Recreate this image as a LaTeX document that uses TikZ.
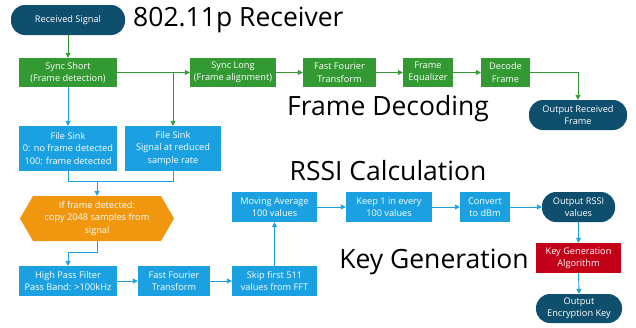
\documentclass[tikz,border=0pt]{standalone}
\usepackage{fontspec}
\setmainfont{Open Sans}
\usetikzlibrary{arrows.meta}
\definecolor{cgreen}{RGB}{51,153,51}
\definecolor{cblue}{RGB}{27,161,226}
\definecolor{cdark}{RGB}{14,79,110}
\definecolor{corange}{RGB}{240,150,15}
\definecolor{cred}{RGB}{196,0,24}
\tikzset{
  base/.style={text=white, align=center, inner sep=1pt, font=\fontsize{9.2}{12.4}\selectfont},
  gbox/.style={base, fill=cgreen},
  bbox/.style={base, fill=cblue},
  rbox/.style={base, fill=cred},
  pill/.style={base, fill=cdark, rounded corners=14pt},
  title/.style={font=\fontsize{26.5}{30}\selectfont, inner sep=0pt},
  garr/.style={draw=cgreen, line width=0.9pt, -{Triangle[width=5pt,length=5pt]}},
  barr/.style={draw=cblue, line width=0.9pt, -{Triangle[width=5pt,length=5pt]}},
  bline/.style={draw=cblue, line width=0.9pt},
}
\begin{document}
\begin{tikzpicture}[x=1pt,y=-1pt]
\useasboundingbox[fill=white] (0,0) rectangle (636,327);
% nodes
\node[pill, minimum width=114pt, minimum height=30pt] (rs) at (68,20) {Received Signal};
\node[title, anchor=west] (t1) at (133,20) {802.11p Receiver};
\node[gbox, minimum width=98pt, minimum height=29pt] (ss) at (68,72.5) {Sync Short\\(Frame detection)};
\node[gbox, minimum width=86pt, minimum height=29pt] (sl) at (233,72.5) {Sync Long\\(Frame alignment)};
\node[gbox, minimum width=73pt, minimum height=29pt] (fft1) at (339.5,72.5) {Fast Fourier\\Transform};
\node[gbox, minimum width=50pt, minimum height=29pt] (feq) at (428,72.5) {Frame\\Equalizer};
\node[gbox, minimum width=49pt, minimum height=29pt] (dec) at (505.5,72.5) {Decode\\Frame};
\node[pill, minimum width=98pt, minimum height=30pt] (orf) at (578,115) {Output Received\\Frame};
\node[title] (t2) at (388,109) {Frame Decoding};
\node[bbox, minimum width=98pt, minimum height=45pt] (fs1) at (68,148.5) {File Sink\\0: no frame detected\\100: frame detected};
\node[bbox, minimum width=96pt, minimum height=45pt] (fs2) at (173,148.5) {File Sink\\Signal at reduced\\sample rate};
\node[title] (t3) at (388,171) {RSSI Calculation};
% hexagon
\fill[corange] (20,218.5) -- (33,196) -- (161,196) -- (174,218.5) -- (161,241) -- (33,241) -- cycle;
\node[base, minimum width=154pt, minimum height=45pt] (hex) at (97,218.5) {If frame detected:\\copy 2048 samples from\\signal};
\node[bbox, minimum width=98pt, minimum height=30pt] (hpf) at (68,281) {High Pass Filter\\Pass Band: >100kHz};
\node[bbox, minimum width=72pt, minimum height=30pt] (fft2) at (174,281) {Fast Fourier\\Transform};
\node[bbox, minimum width=85pt, minimum height=30pt] (skip) at (274.5,281) {Skip first 511\\values from FFT};
\node[bbox, minimum width=85pt, minimum height=30pt] (ma) at (274.5,207) {Moving Average\\100 values};
\node[bbox, minimum width=86pt, minimum height=30pt] (keep) at (389,207) {Keep 1 in every\\100 values};
\node[bbox, minimum width=50pt, minimum height=30pt] (conv) at (485,207) {Convert\\to dBm};
\node[pill, minimum width=73pt, minimum height=30pt] (ors) at (578.5,207) {Output RSSI\\values};
\node[title] (t4) at (434,262) {Key Generation};
\node[rbox, minimum width=85pt, minimum height=30pt] (kga) at (578.5,258) {Key Generation\\Algorithm};
\node[pill, minimum width=86pt, minimum height=29pt] (oek) at (579,308.5) {Output\\Encryption Key};
% connectors
\draw[garr] (rs.south) -- (ss.north);
\draw[garr] (ss.east) -- (sl.west);
\coordinate (br) at (ss.east -| fs2.north);
\draw[garr] (br) -- (fs2.north);
\draw[garr] (sl.east) -- (fft1.west);
\draw[garr] (fft1.east) -- (feq.west);
\draw[garr] (feq.east) -- (dec.west);
\draw[garr] (dec.east) -| (orf.north);
\draw[barr] (ss.south) -- (fs1.north);
\coordinate (m1) at (68,181);
\coordinate (m2) at (173,181);
\coordinate (m3) at (97,181);
\draw[bline] (fs1.south) -- (m1) -- (m2) -- (fs2.south);
\draw[barr] (m3) -- (hex.north);
\coordinate (h1) at (97,252);
\coordinate (h2) at (68,252);
\draw[barr] (hex.south) -- (h1) -- (h2) -- (hpf.north);
\draw[barr] (hpf.east) -- (fft2.west);
\draw[barr] (fft2.east) -- (skip.west);
\draw[barr] (skip.north) -- (ma.south);
\draw[barr] (ma.east) -- (keep.west);
\draw[barr] (keep.east) -- (conv.west);
\draw[barr] (conv.east) -- (ors.west);
\draw[barr] (ors.south) -- (kga.north);
\draw[barr] (kga.south) -- (oek.north);
\end{tikzpicture}
\end{document}
